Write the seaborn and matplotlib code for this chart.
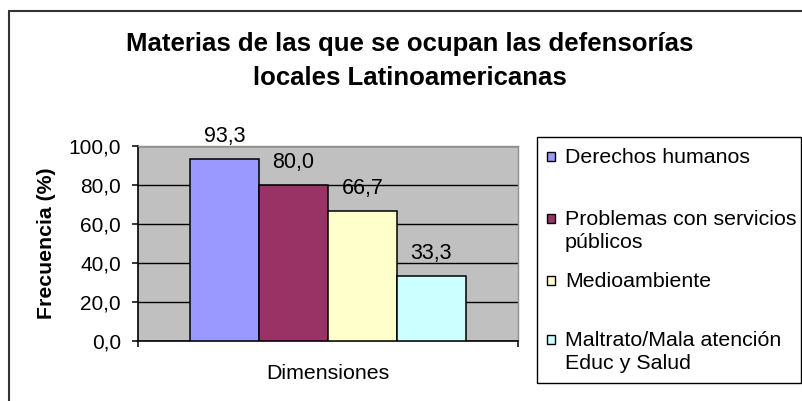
import matplotlib
matplotlib.use("Agg")
import matplotlib.pyplot as plt
import seaborn as sns
import pandas as pd
from matplotlib.patches import Rectangle
from matplotlib.lines import Line2D

# ---- data ----
title_lines = ["Materias de las que se ocupan las defensorías",
               "locales Latinoamericanas"]
categoria = ["Dimensiones"]
materias = ["Derechos humanos",
            "Problemas con servicios\npúblicos",
            "Medioambiente",
            "Maltrato/Mala atención\nEduc y Salud"]
valores = [93.3, 80.0, 66.7, 33.3]
colores = ["#9999FF", "#993366", "#FFFFCC", "#CCFFFF"]
yticks = [0, 20, 40, 60, 80, 100]

sns.set_theme(style="white")
plt.rcParams["font.family"] = ["Liberation Sans", "DejaVu Sans"]
plt.rcParams["text.color"] = "black"
plt.rcParams["axes.labelcolor"] = "black"
plt.rcParams["xtick.color"] = "black"
plt.rcParams["ytick.color"] = "black"

df = pd.DataFrame({"grupo": categoria * len(materias),
                   "materia": materias,
                   "valor": valores})

W, H = 802, 401
fig = plt.figure(figsize=(W / 100, H / 100), dpi=100)
fig.patch.set_facecolor("white")

def fx(px):
    return px / W

def fy(py):
    return 1 - py / H

ax = fig.add_axes([fx(138), fy(341), fx(518) - fx(138), fy(146) - fy(341)])
ax.set_facecolor("#C0C0C0")

sns.barplot(data=df, x="grupo", y="valor", hue="materia",
            palette=colores, hue_order=materias, width=0.7245, gap=0,
            edgecolor="black", linewidth=1.1, saturation=1,
            ax=ax, legend=False, zorder=3)

ax.set_xlim(-0.5, 0.5)
ax.set_ylim(0, 100)
ax.set_yticks(yticks)
ax.set_yticklabels([f"{v:.1f}".replace(".", ",") for v in yticks], fontsize=15)
ax.yaxis.grid(True, color="black", linewidth=1.0, zorder=0)
ax.set_axisbelow(True)
ax.set_xticks([-0.5, 0.5])
ax.set_xticklabels(["", ""])
ax.tick_params(axis="both", direction="out", length=4.3, width=1.1,
               color="black", labelcolor="black", left=True, bottom=True)
ax.tick_params(axis="y", pad=7.9)
ax.tick_params(axis="x", pad=3)
ax.set_xlabel("Dimensiones", fontsize=15.4, labelpad=9)
ax.set_ylabel("Frecuencia (%)", fontsize=15.3, fontweight="bold", labelpad=9)

for s in ["left", "bottom"]:
    ax.spines[s].set_color("black")
    ax.spines[s].set_linewidth(1.2)
for s in ["top", "right"]:
    ax.spines[s].set_color("#909090")
    ax.spines[s].set_linewidth(1.0)

for cont in ax.containers:
    ax.bar_label(cont, labels=[f"{v:.1f}".replace(".", ",") for v in cont.datavalues],
                 padding=8.5, fontsize=15.5, color="black")

# title, two centred lines
for base, line in zip([51, 85], title_lines):
    fig.text(fx(410), fy(base), line, ha="center", va="baseline",
             fontsize=18.5, fontweight="bold", color="black")

# legend (Excel-style, evenly spaced slots, top-aligned)
lx0, ly0, lx1, ly1 = 537, 137, 800.5, 383
fig.patches.append(Rectangle((fx(lx0), fy(ly1)), fx(lx1) - fx(lx0), fy(ly0) - fy(ly1),
                             transform=fig.transFigure, facecolor="white",
                             edgecolor="black", linewidth=1.0))
cap_tops = [148, 210, 272, 331]
for top, lab, col in zip(cap_tops, materias, colores):
    fig.patches.append(Rectangle((fx(547), fy(top + 13)), fx(8), 9 / H,
                                 transform=fig.transFigure, facecolor=col,
                                 edgecolor="black", linewidth=1.0))
    fig.text(fx(565), fy(top), lab, ha="left", va="top", fontsize=15.4,
             linespacing=1.28, color="black")

# chart border
fig.add_artist(Line2D([fx(9), fx(9)], [fy(11), 0], transform=fig.transFigure,
                      color="#333333", linewidth=1.5))
fig.add_artist(Line2D([fx(9), 1], [fy(11), fy(11)], transform=fig.transFigure,
                      color="#333333", linewidth=1.5))

fig.savefig("out.png", dpi=100)
